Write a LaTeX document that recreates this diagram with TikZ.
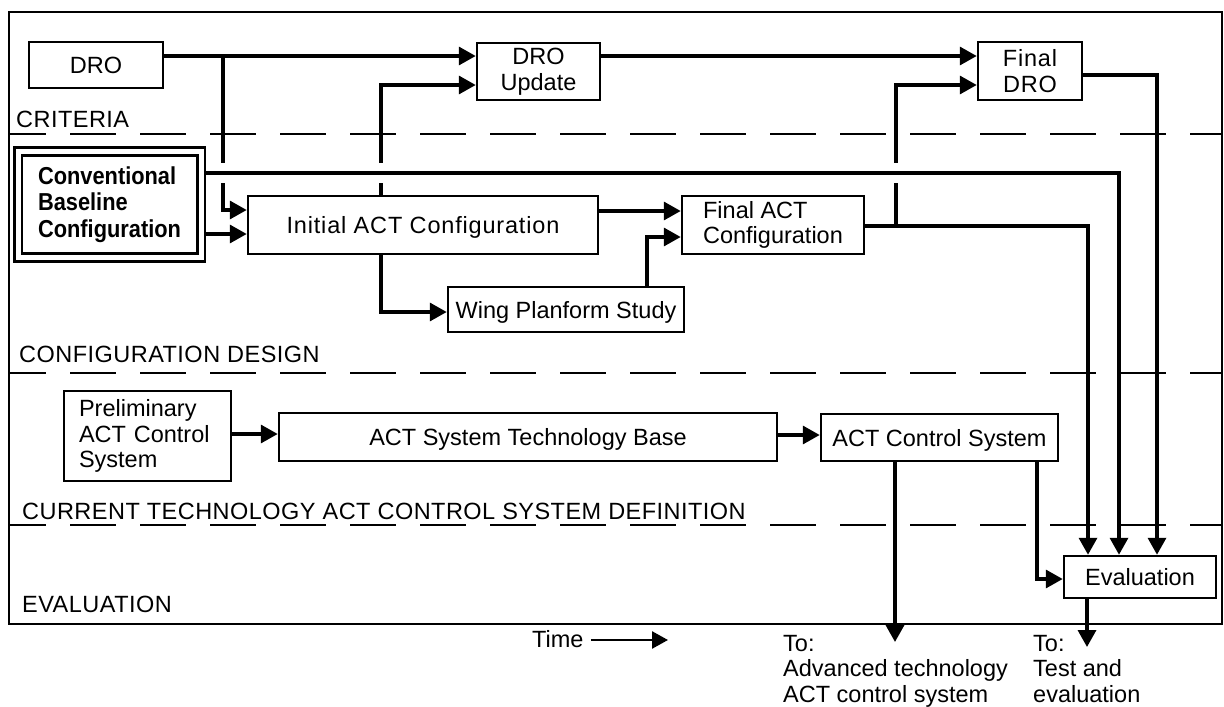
\documentclass[tikz,border=0pt]{standalone}
\usepackage{fontspec}
\setmainfont{Liberation Sans}
\newfontfamily\convfont[FakeStretch=0.89]{Liberation Sans}
\newfontfamily\lanefont[LetterSpace=2]{Liberation Sans}
\newfontfamily\widefont[LetterSpace=3.5]{Liberation Sans}
\usetikzlibrary{arrows.meta}

\tikzset{
  box/.style={draw, line width=2.5pt},
  oneline/.style={text height=17pt, text depth=0pt},
  convbox/.style={draw, line width=2.6pt, double, double distance=5pt, outer sep=5pt,
    align=left, font=\convfont\bfseries\fontsize{24.5}{26.5}\selectfont},
  conn/.style={line width=3.4pt, -{Triangle[length=17pt,width=18pt]}},
  lane/.style={line width=2.4pt, dash pattern=on 46pt off 24pt, dash phase=9pt},
  frame/.style={line width=2.6pt},
  lbl/.style={anchor=base west, font=\lanefont\fontsize{23.5}{25.5}\selectfont},
}

\begin{document}
\begin{tikzpicture}[x=1pt, y=-1pt,
  every node/.style={inner sep=0pt, font=\fontsize{23.5}{25.5}\selectfont}]
\useasboundingbox (0,0) rectangle (1224,707);
\fill[white] (0,0) rectangle (1224,707);

% outer frame and lane separators
\coordinate (fnw) at (9,12);
\coordinate (fse) at (1222,624);
\draw[frame] (fnw) rectangle (fse);
\draw[lane] (fnw |- 0,134) -- (fse |- 0,134);
\draw[lane] (fnw |- 0,373) -- (fse |- 0,373);
\draw[lane] (fnw |- 0,525) -- (fse |- 0,525);

% lane titles
\node[lbl] (lcrit) at (16,127) {CRITERIA};
\node[lbl] (ldes)  at (19,362) {CONFIGURATION DESIGN};
\node[lbl] (ltech) at (22,519) {CURRENT TECHNOLOGY ACT CONTROL SYSTEM DEFINITION};
\node[lbl] (leval) at (22,612) {EVALUATION};

% process boxes
\node[box, oneline, minimum width=134pt, minimum height=46pt] (dro) at (96,65) {DRO};
\node[box, align=center, minimum width=123pt, minimum height=57pt] (droup) at (538.5,71.5) {DRO\\Update};
\node[box, align=center, minimum width=104pt, minimum height=58pt, font=\widefont\fontsize{23.5}{25.5}\selectfont] (fdro) at (1030,71) {Final\\DRO};
\node[convbox, minimum width=183pt, minimum height=106pt] (conv) at (109.5,204.5) {Conventional\\Baseline\\Configuration};
\node[box, oneline, minimum width=350pt, minimum height=58pt, font=\widefont\fontsize{23.5}{25.5}\selectfont] (init) at (423,225) {Initial ACT Configuration};
\node[box, align=left, minimum width=182pt, minimum height=58pt] (fact) at (773,225) {Final ACT\\Configuration};
\node[box, oneline, minimum width=236pt, minimum height=45pt] (wing) at (566,309.5) {Wing Planform Study};
\node[box, align=left, text width=137pt, inner xsep=15pt, minimum height=90pt] (prelim) at (147.5,436) {Preliminary\\ACT Control\\System};
\node[box, oneline, minimum width=498pt, minimum height=48pt] (tbase) at (528,437) {ACT System Technology Base};
\node[box, oneline, minimum width=237pt, minimum height=47pt] (acs) at (939.5,437.5) {ACT Control System};
\node[box, oneline, minimum width=152pt, minimum height=42pt] (eval) at (1140,577) {Evaluation};

% branch points and free ends
\coordinate (j1) at (223,56);
\coordinate (j2) at (896,226);
\coordinate (toadv) at (895,642);
\coordinate (totest) at (1087,647);

% criteria flow
\draw[conn] (dro.east |- j1) -- (droup.west |- j1);
\draw[conn] (droup.east |- j1) -- (fdro.west |- j1);
\draw[conn] (j1) |- (init.west |- 0,210);
\draw[conn] (init.north -| 381,0) |- (droup.west |- 0,85);
\draw[conn] (j2) |- (fdro.west |- 0,85);

% configuration design flow
\draw[conn] (init.south -| 381,0) |- (wing.west |- 0,312);
\draw[conn] (init.east |- 0,211) -- (fact.west |- 0,211);
\draw[conn] (wing.north -| 647,0) |- (fact.west |- 0,237);
\draw[conn] (fact.east |- j2) -| (eval.north -| 1088,0);
\draw[conn] (fdro.east |- 0,75) -| (eval.north -| 1157,0);
\draw[conn] (conv.east |- 0,234) -- (init.west |- 0,234);

% the baseline output passes over the vertical lines
\draw[white, line width=20pt] (conv.east |- 0,173) -- (905,173);
\draw[conn] (conv.east |- 0,173) -| (eval.north -| 1119,0);

% control system flow
\draw[conn] (prelim.east |- 0,434) -- (tbase.west |- 0,434);
\draw[conn] (tbase.east |- 0,435) -- (acs.west |- 0,435);
\draw[conn] (acs.south -| toadv) -- (toadv);
\draw[conn] (acs.south -| 1037,0) |- (eval.west |- 0,579);
\draw[conn] (eval.south -| totest) -- (totest);

% destinations
\node[anchor=north west, align=left] (toA) at (783,635) {To:\\Advanced technology\\ACT control system};
\node[anchor=north west, align=left] (toB) at (1033,635) {To:\\Test and\\evaluation};

% time axis
\node[anchor=base west] (time) at (532,647) {Time};
\coordinate (tend) at (668,640);
\draw[line width=2.5pt, -{Triangle[length=16pt,width=17pt]}] ([xshift=7pt]tend -| time.east) -- (tend);
\end{tikzpicture}
\end{document}
